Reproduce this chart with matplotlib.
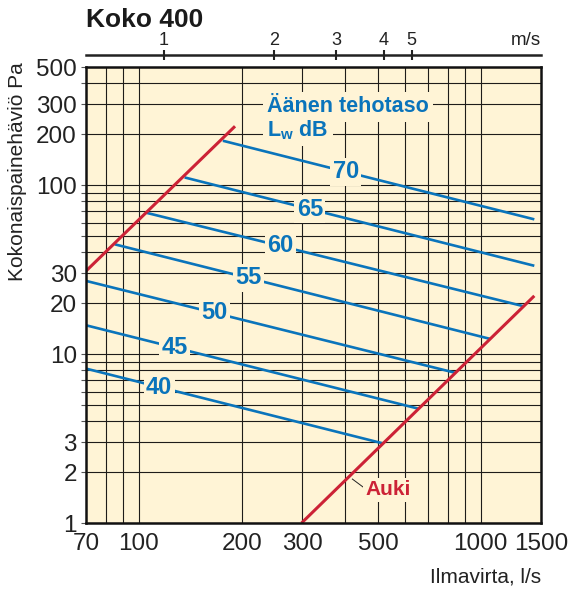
import numpy as np
import matplotlib
matplotlib.use('Agg')
import matplotlib.pyplot as plt
from matplotlib.ticker import FixedLocator, FixedFormatter, NullLocator

plt.rcParams['font.family'] = ['Liberation Sans', 'DejaVu Sans']
plt.rcParams['mathtext.fontset'] = 'custom'
plt.rcParams['mathtext.bf'] = 'Liberation Sans:bold'
plt.rcParams['mathtext.rm'] = 'Liberation Sans'

# ---- data ----
levels = [40, 45, 50, 55, 60, 65, 70]
flow_start = [70, 70, 70, 85, 105, 136, 176]
flow_end = [517, 657, 841, 1064, 1332, 1434, 1434]
dp_start = [8.2, 14.8, 27.1, 44.6, 68.6, 111, 183]
dp_end = [2.96, 4.75, 7.75, 12.3, 19.2, 33.3, 62.7]
label_flow = [114.5, 127, 166, 209, 259, 316, 403]

open_flow_left = [70, 191]
open_dp_left = [31.0, 223]
open_flow_right = [299, 1434]
open_dp_right = [1.0, 22.1]

auki_label_flow = 535
auki_label_dp = 1.57
auki_leader_flow = [421, 453]
auki_leader_dp = [1.82, 1.63]

x_ticks = [70, 100, 200, 300, 500, 1000, 1500]
x_grid = [80, 90, 100, 200, 300, 400, 500, 600, 700, 800, 900, 1000]
y_ticks = [1, 2, 3, 10, 20, 30, 100, 200, 300, 500]
y_grid = [1, 2, 3, 4, 5, 6, 7, 8, 9, 10, 20, 30, 40, 50, 60, 70, 80, 90,
          100, 200, 300, 400, 500]
top_tick_flow = [118, 248, 377, 521, 628]
top_tick_labels = ['1', '2', '3', '4', '5']

# ---- style ----
CREAM = '#fff4d6'
BLUE = '#0a74bb'
RED = '#cc2236'
GRID = '#1e1c1a'

fig = plt.figure(figsize=(5.7, 5.92), dpi=100)
ax = fig.add_axes([86 / 570, 1 - 523 / 592, 455 / 570, 456 / 592])
ax.set_facecolor(CREAM)
ax.set_xscale('log')
ax.set_yscale('log')
ax.set_xlim(70, 1500)
ax.set_ylim(1, 500)

for v in x_grid:
    ax.axvline(v, color=GRID, lw=0.8, zorder=1)
for v in y_grid:
    ax.axhline(v, color=GRID, lw=0.8, zorder=1)

ax.xaxis.set_major_locator(FixedLocator(x_ticks))
ax.xaxis.set_major_formatter(FixedFormatter([str(v) for v in x_ticks]))
ax.xaxis.set_minor_locator(NullLocator())
ax.yaxis.set_major_locator(FixedLocator(y_grid))
ax.yaxis.set_major_formatter(FixedFormatter([str(v) if v in y_ticks else '' for v in y_grid]))
ax.yaxis.set_minor_locator(NullLocator())
ax.tick_params(axis='x', length=0, pad=7, labelsize=17.5, colors='#222')
ax.tick_params(axis='y', direction='out', length=3.5, width=0.8, color='#555',
               labelcolor='#222', pad=3, labelsize=17.5)

for s in ax.spines.values():
    s.set_linewidth(1.8)
    s.set_color('#111')
    s.set_zorder(10)

# sound power lines
for lv, q0, q1, p0, p1, lq in zip(levels, flow_start, flow_end, dp_start, dp_end, label_flow):
    ax.plot([q0, q1], [p0, p1], color=BLUE, lw=1.9, zorder=3, solid_capstyle='butt')
    lp = 10 ** np.interp(np.log10(lq), np.log10([q0, q1]), np.log10([p0, p1]))
    ax.text(lq, lp, str(lv), color=BLUE, fontsize=17, fontweight='bold',
            ha='center', va='center', zorder=6,
            bbox=dict(boxstyle='square,pad=0.1', fc=CREAM, ec='none'))

# open damper lines
ax.plot(open_flow_left, open_dp_left, color=RED, lw=2.2, zorder=4, solid_capstyle='butt')
ax.plot(open_flow_right, open_dp_right, color=RED, lw=2.2, zorder=4, solid_capstyle='butt')
ax.plot(auki_leader_flow, auki_leader_dp, color='#222', lw=0.7, zorder=5)
ax.text(auki_label_flow, auki_label_dp, 'Auki', color=RED, fontsize=15, fontweight='bold',
        ha='center', va='center', zorder=6,
        bbox=dict(boxstyle='square,pad=0.12', fc=CREAM, ec='none'))

# legend-like title inside
ax.text((267 - 86) / 455, (523 - 107) / 456, 'Äänen tehotaso', transform=ax.transAxes,
        color=BLUE, fontsize=15.5, fontweight='bold', ha='left', va='center', zorder=6,
        bbox=dict(boxstyle='square,pad=0.2', fc=CREAM, ec='none'))
ax.text((267 - 86) / 455, (523 - 130) / 456, r'L$_\mathbf{w}$ dB', transform=ax.transAxes,
        color=BLUE, fontsize=15.5, fontweight='bold', ha='left', va='center', zorder=6,
        bbox=dict(boxstyle='square,pad=0.2', fc=CREAM, ec='none'))

# top velocity axis
sec = ax.secondary_xaxis(1 + 12 / 456)
sec.xaxis.set_minor_locator(NullLocator())
sec.set_xticks(top_tick_flow, top_tick_labels)
sec.xaxis.set_minor_locator(NullLocator())
sec.tick_params(direction='inout', length=7, width=1.5, labelsize=13, pad=1, colors='#222')
for s in sec.spines.values():
    s.set_linewidth(1.8)
    s.set_color('#222')
ax.text(1.0, (523 - 45) / 456, 'm/s', transform=ax.transAxes, ha='right', va='baseline',
        fontsize=13.5, color='#222')

# labels
ax.set_xlabel('Ilmavirta, l/s', fontsize=15, color='#222')
ax.xaxis.set_label_coords(1.0, -(577 - 523) / 456)
ax.xaxis.label.set_ha('right')
ax.xaxis.label.set_va('center')
ax.set_ylabel('Kokonaispainehäviö Pa', fontsize=15, color='#222')
ax.yaxis.set_label_coords((18 - 86) / 455, (523 - 62) / 456)
ax.yaxis.label.set_ha('right')
ax.yaxis.label.set_va('center')

fig.text(86 / 570, 1 - 27 / 592, 'Koko 400', fontsize=19, fontweight='bold',
         va='baseline', ha='left', color='#1a1a1a')

fig.savefig('out.png', dpi=100)
